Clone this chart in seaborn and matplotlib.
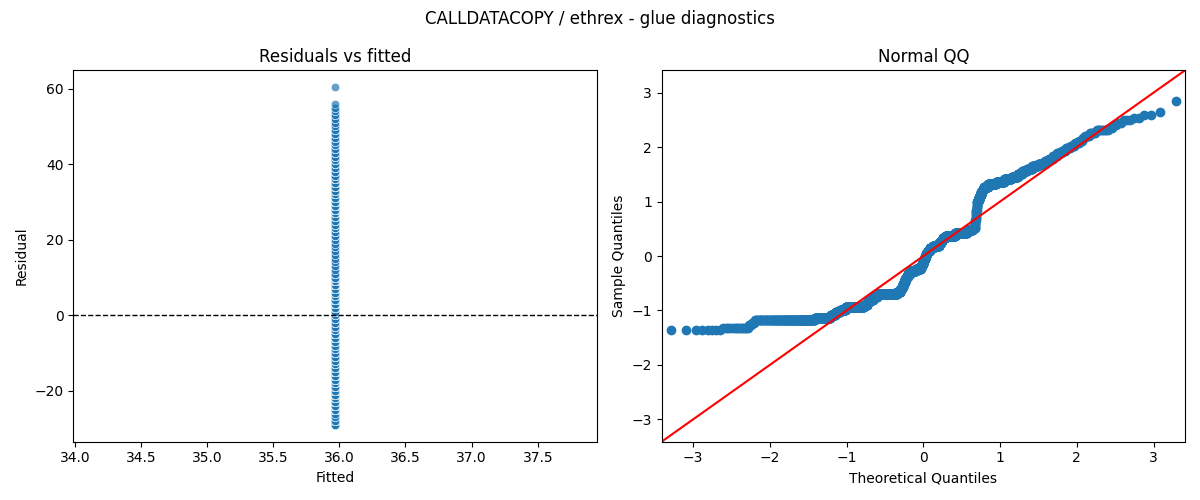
import numpy as np
import pandas as pd
import seaborn as sns
import matplotlib
matplotlib.use("Agg")
import matplotlib.pyplot as plt
from statistics import NormalDist

# residual levels (ns) and how many samples sit at each level
resid_levels = [-29, -28, -27, -26, -25, -24, -23, -22, -21, -20,
                -19, -18, -17, -16, -15, -14, -13, -12, -11, -10,
                -9, -8, -7, -6, -5, -4, -3, -2, -1, 0,
                1, 2, 3, 4, 5, 6, 7, 8, 9, 10,
                11, 12, 13, 14, 15, 16, 17, 18, 19, 20,
                21, 22, 23, 24, 25, 26, 27, 28, 29, 30,
                31, 32, 33, 34, 35, 36, 37, 38, 39, 40,
                41, 42, 43, 44, 45, 46, 47, 48, 49, 50,
                51, 52, 53, 54, 55, 56, 60.4]
resid_counts = [8, 14, 3, 2, 130, 69, 26, 26, 33, 127,
                28, 15, 30, 35, 184, 35, 12, 12, 12, 12,
                13, 12, 22, 61, 51, 14, 14, 10, 11, 11,
                12, 21, 35, 61, 19, 18, 29, 95, 108, 50,
                19, 2, 2, 2, 2, 2, 2, 2, 2, 2,
                6, 9, 8, 8, 12, 11, 31, 56, 51, 41,
                32, 21, 21, 21, 21, 21, 12, 10, 10, 10,
                8, 8, 7, 6, 4, 3, 5, 6, 9, 2,
                2, 2, 3, 2, 2, 1, 1]
fitted_value = 35.968

resid = np.repeat(np.array(resid_levels, dtype=float), resid_counts)
df = pd.DataFrame({"fitted": fitted_value, "resid": resid})

# qq values (residuals scaled by their std, not re-centred)
n = len(resid)
z = np.sort(resid) / resid.std()
nd = NormalDist()
theo = np.array([nd.inv_cdf(i / (n + 1)) for i in range(1, n + 1)])

fig, (ax1, ax2) = plt.subplots(1, 2, figsize=(12, 5), dpi=100)

sns.scatterplot(data=df, x="fitted", y="resid", ax=ax1, alpha=0.7)
ax1.axhline(0, color="black", linestyle="--", linewidth=1)
ax1.set_title("Residuals vs fitted")
ax1.set_xlabel("Fitted")
ax1.set_ylabel("Residual")

sns.scatterplot(x=theo, y=z, ax=ax2, color="C0", edgecolor="C0", linewidth=1, s=36)
ax2.axline((0, 0), slope=1, color="red")
ax2.set_xlim(-3.41, 3.41)
ax2.set_ylim(-3.41, 3.41)
ax2.set_title("Normal QQ")
ax2.set_xlabel("Theoretical Quantiles")
ax2.set_ylabel("Sample Quantiles")

fig.suptitle("CALLDATACOPY / ethrex - glue diagnostics")
plt.tight_layout()
plt.savefig("out.png")
